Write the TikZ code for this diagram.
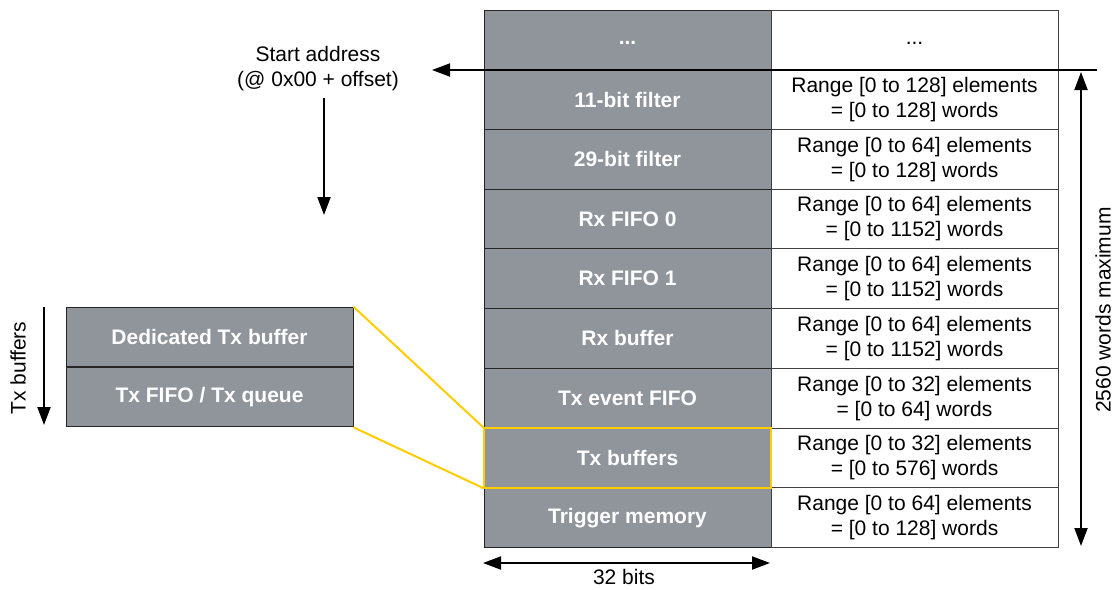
\documentclass[tikz,border=0pt]{standalone}
\usepackage{fontspec}
\setmainfont{Liberation Sans}
\usetikzlibrary{arrows.meta}
\definecolor{cellgray}{RGB}{143,149,155}
\definecolor{hiyellow}{RGB}{255,204,0}
\tikzset{
  graycell/.style={draw=black!85, line width=0.9pt, fill=cellgray, minimum width=287pt, minimum height=59.72pt, inner sep=0pt, text=white, font=\fontsize{21}{25}\selectfont\bfseries},
  whitecell/.style={draw=black!75, line width=0.8pt, fill=white, minimum width=287pt, minimum height=59.72pt, inner sep=0pt, align=center, font=\fontsize{21}{25}\selectfont},
  lbl/.style={inner sep=0pt, align=center, font=\fontsize{21}{25}\selectfont},
  arr/.style={line width=2pt, -{Triangle[length=18pt,width=13pt]}},
  darr/.style={line width=2pt, {Triangle[length=18pt,width=13pt]}-{Triangle[length=18pt,width=13pt]}},
  zoomline/.style={draw=hiyellow, line width=2pt}
}
\begin{document}
\begin{tikzpicture}[x=1pt,y=-1pt]
\useasboundingbox (0,0) rectangle (1118,589);
% gray column
\node[graycell] (g0) at (627.5,39.86) {\vphantom{Rg}...};
\node[graycell] (g1) at (627.5,99.58) {11-bit filter};
\node[graycell] (g2) at (627.5,159.30) {29-bit filter};
\node[graycell] (g3) at (627.5,219.02) {Rx FIFO 0};
\node[graycell] (g4) at (627.5,278.74) {Rx FIFO 1};
\node[graycell] (g5) at (627.5,338.46) {Rx buffer};
\node[graycell] (g6) at (627.5,398.18) {Tx event FIFO};
\node[graycell] (g7) at (627.5,457.90) {Tx buffers};
\node[graycell] (g8) at (627.5,517.62) {Trigger memory};
% white column
\node[whitecell] (w0) at (914.5,39.86) {\vphantom{Rg}...};
\node[whitecell] (w1) at (914.5,99.58) {Range [0 to 128] elements\\= [0 to 128] words};
\node[whitecell] (w2) at (914.5,159.30) {Range [0 to 64] elements\\= [0 to 128] words};
\node[whitecell] (w3) at (914.5,219.02) {Range [0 to 64] elements\\= [0 to 1152] words};
\node[whitecell] (w4) at (914.5,278.74) {Range [0 to 64] elements\\= [0 to 1152] words};
\node[whitecell] (w5) at (914.5,338.46) {Range [0 to 64] elements\\= [0 to 1152] words};
\node[whitecell] (w6) at (914.5,398.18) {Range [0 to 32] elements\\= [0 to 64] words};
\node[whitecell] (w7) at (914.5,457.90) {Range [0 to 32] elements\\= [0 to 576] words};
\node[whitecell] (w8) at (914.5,517.62) {Range [0 to 64] elements\\= [0 to 128] words};
% highlight of Tx buffers row
\draw[zoomline] (g7.north west) rectangle (g7.south east);
% left boxes
\node[graycell] (d1) at (209.5,337) {Dedicated Tx buffer};
\node[graycell] (d2) at (209.5,397) {Tx FIFO / Tx queue};
\draw[zoomline] (d1.north east) -- (g7.north west);
\draw[zoomline] (d2.south east) -- (g7.south west);
% start address
\node[lbl] (start) at (318,69) {Start address\\(@ 0x00 + offset)};
\coordinate (lineR) at (1097,70);
\coordinate (lineL) at (432,70);
\draw[arr] (lineR) -- (lineL);
\coordinate (sa1) at (324,98);
\coordinate (sa2) at (324,215);
\draw[arr] (sa1) -- (sa2);
% Tx buffers arrow
\coordinate (tb1) at (44,307);
\coordinate (tb2) at (44,425);
\draw[arr] (tb1) -- (tb2);
\node[lbl, rotate=90] (txlbl) at (18,368) {Tx buffers};
% 32 bits
\coordinate (b1) at (483,563);
\coordinate (b2) at (770,563);
\draw[darr] (b1) -- (b2);
\node[lbl] (bits) at (624,577) {32 bits};
% 2560 words maximum
\coordinate (r1) at (1081,72);
\coordinate (r2) at (1081,546);
\draw[darr] (r1) -- (r2);
\node[lbl, rotate=90] (maxlbl) at (1103,310) {2560 words maximum};
\end{tikzpicture}
\end{document}
